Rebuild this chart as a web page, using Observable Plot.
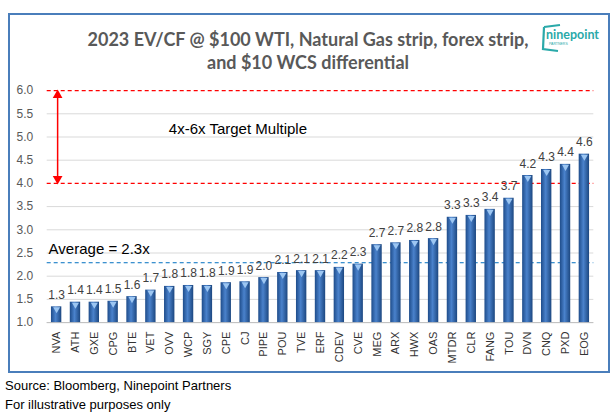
<!DOCTYPE html>
<html>
<head>
<meta charset="utf-8">
<script src="https://cdn.jsdelivr.net/npm/d3@7"></script>
<script src="https://cdn.jsdelivr.net/npm/@observablehq/plot@0.6"></script>
<style>
  html, body { margin: 0; padding: 0; background: #fff; }
  #wrap { position: relative; width: 616px; height: 416px; overflow: hidden; font-family: "Liberation Sans", Arial, sans-serif; }
  #box { position: absolute; left: 8px; top: 13px; width: 598px; height: 356px; border: 2px solid #4a7ebb; pointer-events: none; }
  #chart { position: absolute; left: 0; top: 0; }
  .title { position: absolute; left: 0; width: 616px; text-align: center; font-family: Lato, "Liberation Sans", sans-serif; font-weight: bold; font-size: 18px; color: #595959; white-space: nowrap; }
  #logo { position: absolute; left: 538px; top: 21px; }
  .foot { position: absolute; left: 5px; font-size: 13px; color: #000; }
</style>
</head>
<body>
<div id="wrap">
  <div id="chart"></div>
  <div id="box"></div>
  <div class="title" style="top:28px; left:0px;">2023 EV/CF @ $100 WTI, Natural Gas strip, forex strip,</div>
  <div class="title" style="top:51px; left:0px;">and $10 WCS differential</div>
  <svg id="logo" width="72" height="34">
    <path d="M6,6 L22,4 M6,6 L5,28 L20,30" fill="none" stroke="#2aa9a9" stroke-width="2.2"/>
    <text x="8" y="18" textLength="53" lengthAdjust="spacingAndGlyphs" font-family="Lato, 'Liberation Sans', sans-serif" font-weight="bold" font-size="14" fill="#2aa9a9">ninepoint</text>
    <text x="11" y="24" font-family="'Liberation Sans', sans-serif" font-size="3.5" fill="#2aa9a9">PARTNERS</text>
  </svg>
  <div class="foot" style="top:378px;">Source: Bloomberg, Ninepoint Partners</div>
  <div class="foot" style="top:397px;">For illustrative purposes only</div>
</div>
<script>
const tickers = ["NVA","ATH","GXE","CPG","BTE","VET","OVV","WCP","SGY","CPE","CJ","PIPE","POU","TVE","ERF","CDEV","CVE","MEG","ARX","HWX","OAS","MTDR","CLR","FANG","TOU","DVN","CNQ","PXD","EOG"];
const values  = [1.34,1.44,1.44,1.46,1.56,1.70,1.78,1.80,1.80,1.86,1.88,1.97,2.08,2.12,2.12,2.19,2.26,2.68,2.72,2.77,2.81,3.27,3.31,3.44,3.68,4.17,4.30,4.41,4.63];
const yTicks = [1.0,1.5,2.0,2.5,3.0,3.5,4.0,4.5,5.0,5.5,6.0];
const targetRange = [4.0, 6.0];
const average = 2.29;
const targetLabel = "4x-6x Target Multiple";
const averageLabel = "Average = 2.3x";

const data = tickers.map((t, i) => ({t, v: values[i]}));
const gridTicks = yTicks.filter(v => !targetRange.includes(v));

const chart = Plot.plot({
  width: 616,
  height: 372,
  marginLeft: 46.7,
  marginRight: 22.7,
  marginTop: 90.1,
  marginBottom: 49.9,
  style: {background: "transparent", fontFamily: "'Liberation Sans', Arial, sans-serif", fontSize: "12px", color: "#595959"},
  x: {domain: tickers, paddingInner: 0.45, paddingOuter: 0.225, round: false, label: null, tickRotate: -90, tickSize: 0, tickPadding: 9},
  y: {domain: [1, 6], ticks: yTicks, tickFormat: d => d.toFixed(1), label: null, tickSize: 0, tickPadding: 14},
  marks: [
    Plot.ruleY(gridTicks, {stroke: "#d9d9d9", strokeWidth: 1}),
    Plot.ruleY([1], {stroke: "#bfbfbf"}),
    Plot.ruleY(targetRange, {stroke: "#ff0000", strokeDasharray: "4,3", strokeWidth: 1.2}),
    Plot.ruleY([average], {stroke: "#0070c0", strokeDasharray: "4,3", strokeWidth: 1}),
    Plot.barY(data, {x: "t", y1: 1, y2: "v", fill: "url(#barGrad)"}),
    Plot.dot(data, {x: "t", y: "v", symbol: "triangle", rotate: 180, r: 2.6, fill: "#9cc6f2", dy: 2.5}),
    Plot.text(data, {x: "t", y: "v", text: d => d.v.toFixed(1), dy: -8, lineAnchor: "bottom", fill: "#404040", fontSize: 12}),
    Plot.ruleX(["NVA"], {y1: 4.12, y2: 5.88, stroke: "#ff0000", strokeWidth: 1.5, dx: 1}),
    Plot.dot(["NVA"], {x: d => d, y: 5.88, symbol: "triangle", fill: "#ff0000", r: 3.6, dx: 1, dy: -1}),
    Plot.dot(["NVA"], {x: d => d, y: 4.12, symbol: "triangle", rotate: 180, fill: "#ff0000", r: 3.6, dx: 1, dy: 1}),
    Plot.text([targetLabel], {x: () => "VET", y: () => 5.17, text: d => d, textAnchor: "start", dx: 18, fontSize: 15, fill: "#000"}),
    Plot.text([averageLabel], {x: () => "NVA", y: () => 2.58, text: d => d, textAnchor: "start", dx: -8, fontSize: 15, fill: "#000"})
  ]
});

const ns = "http://www.w3.org/2000/svg";
const defs = document.createElementNS(ns, "defs");
defs.innerHTML = `<linearGradient id="barGrad" x1="0" x2="1" y1="0" y2="0">
  <stop offset="0" stop-color="#1e4c8a"/>
  <stop offset="0.45" stop-color="#4a82cc"/>
  <stop offset="1" stop-color="#1c4780"/>
</linearGradient>`;
chart.insertBefore(defs, chart.firstChild);
chart.querySelectorAll("g[aria-label='x-axis tick label']").forEach(g => { g.setAttribute("fill", "#333333"); g.setAttribute("font-size", "11"); });
document.getElementById("chart").appendChild(chart);
</script>
</body>
</html>
